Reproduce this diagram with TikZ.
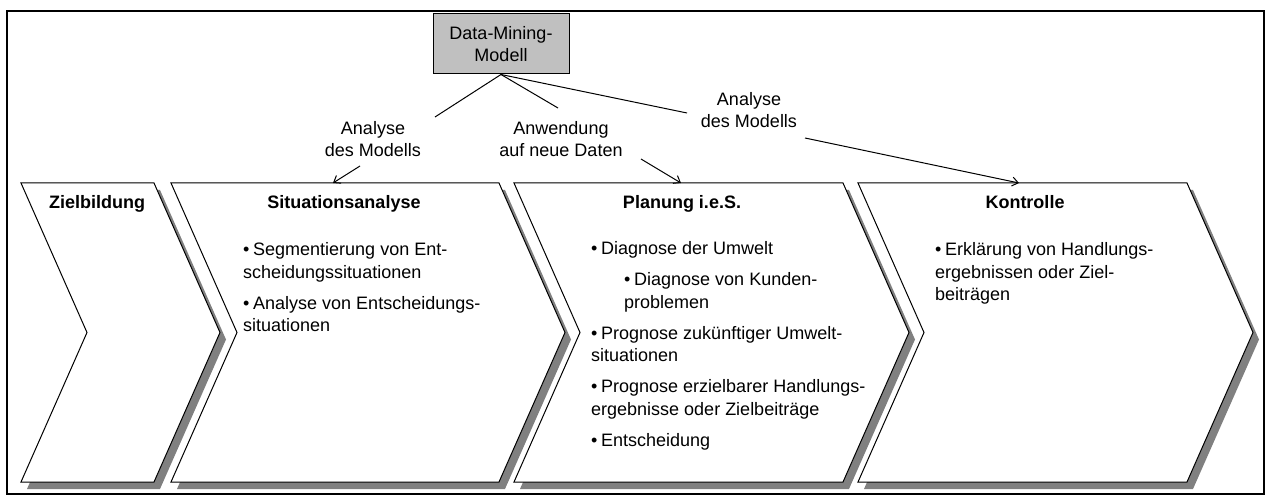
\documentclass[tikz,border=0pt]{standalone}
\usepackage{fontspec}
\setmainfont{Liberation Sans}
\usetikzlibrary{arrows.meta}

\definecolor{boxgray}{HTML}{C0C0C0}
\definecolor{shadowgray}{HTML}{808080}

% chevron outline: left x, right x of the straight top edge
\newcommand\chevronpath[2]{(#1,183) -- (#2,183) -- ({#2+66},332.5) -- (#2,482) -- (#1,482) -- ({#1+66},332.5) -- cycle}

% bullet items with hanging indent
\newcommand\bitem[1]{\par\leftskip=0pt\hangindent=10pt\hangafter=1\noindent\makebox[10pt][l]{\textbullet}#1}
\newcommand\subbitem[1]{\par\leftskip=33pt\hangindent=10pt\hangafter=1\noindent\makebox[10pt][l]{\textbullet}#1}
\newcommand\itemblock[1]{\parbox[t]{330pt}{\fontsize{18}{22.5}\selectfont\raggedright\setlength{\parskip}{8.5pt}#1\par}}

\begin{document}
\begin{tikzpicture}[x=1pt,y=-1pt,
  shadowfill/.style={fill=shadowgray, draw=none},
  chevronbox/.style={fill=white, draw=black, line width=1pt, line join=miter},
  heading/.style={font=\fontsize{18}{22.5}\selectfont\bfseries, anchor=base, inner sep=0pt},
  body/.style={anchor=base west, inner sep=0pt},
  dmbox/.style={draw=black, fill=boxgray, line width=1pt, minimum width=136pt, minimum height=60pt,
    align=center, font=\fontsize{18}{22.5}\selectfont, inner sep=0pt},
  edgelabel/.style={align=center, font=\fontsize{18}{22}\selectfont, inner sep=0pt},
  conn/.style={draw=black, line width=1pt},
  arr/.style={conn, -{Straight Barb[length=6pt,width=9pt,line width=1pt]}}
]
\useasboundingbox (0,0) rectangle (1270,497);

% outer frame
\draw[line width=2pt] (7,11) rectangle (1264,494);

% process chevrons with drop shadows
\foreach \l/\r in {21/154, 171/499, 514/843, 858/1187}{
  \fill[shadowfill, shift={(6,7)}] \chevronpath{\l}{\r};
  \path[chevronbox] \chevronpath{\l}{\r};
}

% headings
\node[heading] (hZiel) at (97,209) {Zielbildung};
\node[heading] (hSit) at (344,209) {Situationsanalyse};
\node[heading] (hPlan) at (682,209) {Planung i.e.S.};
\node[heading] (hKon) at (1025,209) {Kontrolle};

% chevron contents
\node[body] (tSit) at (243,256) {\itemblock{%
  \bitem{Segmentierung von Ent-\\scheidungssituationen}%
  \bitem{Analyse von Entscheidungs-\\situationen}}};
\node[body] (tPlan) at (591,255) {\itemblock{%
  \bitem{Diagnose der Umwelt}%
  \subbitem{Diagnose von Kunden-\\problemen}%
  \bitem{Prognose zukünftiger Umwelt-\\situationen}%
  \bitem{Prognose erzielbarer Handlungs-\\ergebnisse oder Zielbeiträge}%
  \bitem{Entscheidung}}};
\node[body] (tKon) at (935,256) {\itemblock{%
  \bitem{Erklärung von Handlungs-\\ergebnissen oder Ziel-\\beiträgen}}};

% model box
\node[dmbox] (dm) at (501,44) {Data-Mining-\\Modell};

% connector labels
\node[edgelabel] (lblA) at (373,139) {Analyse\\des Modells};
\node[edgelabel] (lblB) at (561,139) {Anwendung\\auf neue Daten};
\node[edgelabel] (lblC) at (749,110) {Analyse\\des Modells};

% connector ends
\coordinate (a1) at (435,117);
\coordinate (a2) at (360,166);
\coordinate (tA) at (333,183);
\coordinate (b1) at (558,108);
\coordinate (b2) at (641,159);
\coordinate (tB) at (681,183);
\coordinate (c1) at (687,113);
\coordinate (c2) at (805,138);
\coordinate (tC) at (1019,183);

% connectors, interrupted by their labels
\draw[conn] (dm.south) -- (a1);
\draw[arr] (a2) -- (tA);
\draw[conn] (dm.south) -- (b1);
\draw[arr] (b2) -- (tB);
\draw[conn] (dm.south) -- (c1);
\draw[arr] (c2) -- (tC);
\end{tikzpicture}
\end{document}
